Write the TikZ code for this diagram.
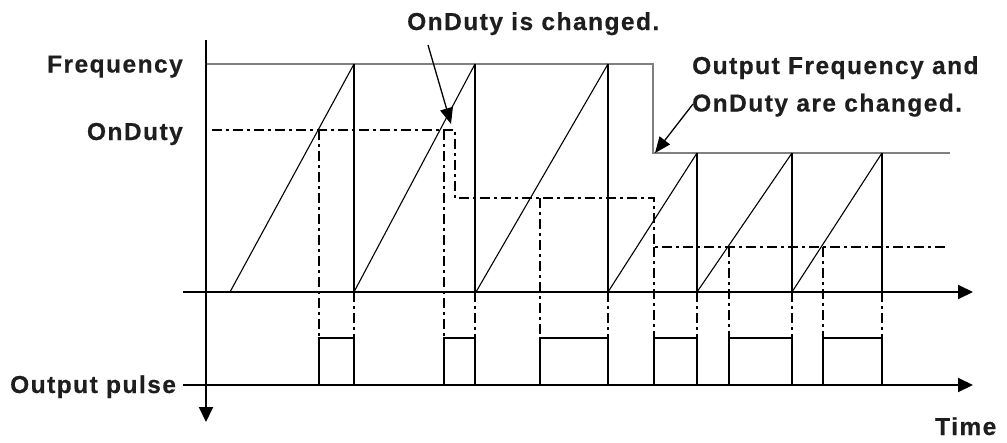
\documentclass[tikz,border=0pt]{standalone}
\usepackage{fontspec}
\setmainfont{Liberation Sans}[LetterSpace=6.0]
\usetikzlibrary{arrows.meta}
\definecolor{txt}{HTML}{1E1E1E}
\begin{document}
\begin{tikzpicture}[x=1pt,y=-1pt,
  lbl/.style={font=\bfseries\addfontfeature{FakeBold=0.5}\fontsize{24.5}{28}\selectfont, text=txt, inner sep=0pt},
  axisline/.style={line width=2pt, -{Triangle[length=15pt,width=14pt]}},
  freqline/.style={line width=1.4pt, black!50},
  dutyline/.style={line width=1.7pt, dash pattern=on 10pt off 4pt on 3pt off 4pt},
  rampline/.style={line width=1.1pt},
  resetline/.style={line width=2pt},
  pulseline/.style={line width=2pt},
  callout/.style={line width=1.3pt, -{Triangle[length=16pt,width=13pt]}}]
\useasboundingbox (0,0) rectangle (1007,442);

% axes
\coordinate (vtop) at (206,40);
\coordinate (vbot) at (206,422);
\coordinate (ta0) at (183,292);
\coordinate (ta1) at (973,292);
\coordinate (pa0) at (183,385);
\coordinate (pa1) at (973,385);
\draw[axisline] (vtop) -- (vbot);
\draw[axisline] (ta0) -- (ta1);
\draw[axisline] (pa0) -- (pa1);

% frequency level
\coordinate (f0) at (207,64);
\coordinate (f1) at (653,64);
\coordinate (f2) at (653,153);
\coordinate (f3) at (950,153);
\draw[freqline] (f0) -- (f1) -- (f2) -- (f3);

% duty level
\coordinate (d0) at (212,130);
\coordinate (d1) at (455,130);
\coordinate (d2) at (455,198);
\coordinate (d3) at (654,198);
\coordinate (d4) at (654,247);
\coordinate (d5) at (948,247);
\draw[dutyline] (d0) -- (d1) -- (d2) -- (d3) -- (d4) -- (d5);

% sawtooth
\foreach \s/\t/\h in {230/354/64, 354/475/64, 476/608/64, 608/697/153, 697/792/153, 792/882/153}{
  \draw[rampline] (\s,292) -- (\t,\h);
  \draw[resetline] (\t,\h) -- (\t,292);
}

% dash-dot projections
\foreach \x/\y in {319/130, 354/292, 444/130, 475/292, 540/198, 608/292, 654/247, 697/292, 729/247, 792/292, 823/247, 882/292}{
  \draw[dutyline] (\x,\y) -- (\x,338);
}

% output pulses
\foreach \a/\b in {319/354, 444/475, 540/608, 654/697, 729/792, 823/882}{
  \draw[pulseline] (\a,385) -- (\a,338) -- (\b,338) -- (\b,385);
}

% labels
\node[lbl, anchor=base east] (lfreq) at (183,72.5) {Frequency};
\node[lbl, anchor=base east] (lduty) at (183,140) {OnDuty};
\node[lbl, anchor=base west] (lpulse) at (10,393) {Output pulse};
\node[lbl, anchor=base west] (ltime) at (935,435) {Time};
\node[lbl, anchor=base west] (lchg) at (407,30) {OnDuty is changed.};
\node[lbl, anchor=base west] (lof1) at (692,74) {Output Frequency and};
\node[lbl, anchor=base west] (lof2) at (692,111.5) {OnDuty are changed.};

% callouts
\coordinate (c1s) at (428,45);
\coordinate (c1e) at (451,124);
\coordinate (c2s) at (693,104);
\coordinate (c2e) at (655,153);
\draw[callout] (c1s) -- (c1e);
\draw[callout] (c2s) -- (c2e);
\end{tikzpicture}
\end{document}
